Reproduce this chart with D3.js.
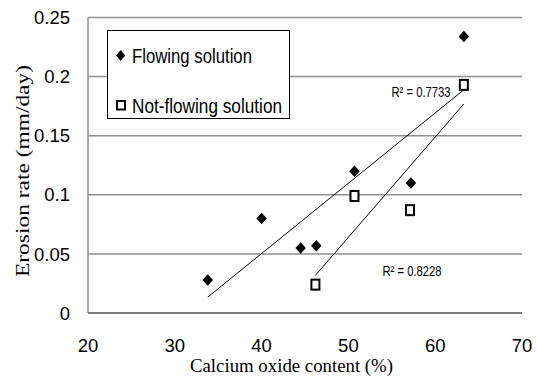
<!DOCTYPE html>
<html>
<head>
<meta charset="utf-8">
<script src="https://cdn.jsdelivr.net/npm/d3@7"></script>
<style>
  html, body { margin: 0; padding: 0; background: #fff; }
  svg { display: block; }
</style>
</head>
<body>
<svg id="chart" width="537" height="383"></svg>
<script>
// Calcium oxide content (%) vs erosion rate (mm/day)
const calciumFlowing = [33.8, 40.0, 44.5, 46.3, 50.7, 57.2, 63.3];
const rateFlowing    = [0.028, 0.080, 0.055, 0.057, 0.120, 0.110, 0.234];
const calciumStill   = [46.2, 50.7, 57.1, 63.3];
const rateStill      = [0.024, 0.099, 0.087, 0.193];

const xTicks = [20, 30, 40, 50, 60, 70];
const yTicks = [0, 0.05, 0.1, 0.15, 0.2, 0.25];
const yTickLabels = ["0", "0.05", "0.1", "0.15", "0.2", "0.25"];

const seriesNames = ["Flowing solution", "Not-flowing solution"];
const rSquaredLabels = ["R\u00B2 = 0.7733", "R\u00B2 = 0.8228"];

const svg = d3.select("#chart");
const plotLeft = 88, plotRight = 522, plotTop = 17.5, plotBottom = 313;

const x = d3.scaleLinear().domain([20, 70]).range([plotLeft, plotRight]);
const y = d3.scaleLinear().domain([0, 0.25]).range([plotBottom, plotTop]);

const sansFont = "'Liberation Sans Narrow', 'Liberation Sans', Arial, sans-serif";
const serifFont = "'Liberation Serif', 'Times New Roman', serif";

// horizontal gridlines
svg.append("g")
  .selectAll("line")
  .data(yTicks.slice(1))
  .join("line")
  .attr("x1", plotLeft).attr("x2", plotRight)
  .attr("y1", d => y(d)).attr("y2", d => y(d))
  .attr("stroke", "#8e8e8e").attr("stroke-width", 1.5);

// axis lines
svg.append("line")
  .attr("x1", plotLeft).attr("x2", plotLeft).attr("y1", plotTop).attr("y2", plotBottom)
  .attr("stroke", "#8e8e8e").attr("stroke-width", 1.5);
svg.append("line")
  .attr("x1", plotLeft).attr("x2", plotRight).attr("y1", plotBottom).attr("y2", plotBottom)
  .attr("stroke", "#7a7a7a").attr("stroke-width", 2);

// tick labels
svg.append("g")
  .selectAll("text")
  .data(yTicks)
  .join("text")
  .attr("x", 70).attr("y", d => y(d))
  .attr("dy", "0.36em")
  .attr("text-anchor", "end")
  .attr("font-family", sansFont).attr("font-size", 18.5)
  .text((d, i) => yTickLabels[i]);

svg.append("g")
  .selectAll("text")
  .data(xTicks)
  .join("text")
  .attr("x", d => x(d)).attr("y", 345)
  .attr("dy", "0.36em")
  .attr("text-anchor", "middle")
  .attr("font-family", sansFont).attr("font-size", 18.5)
  .text(d => d);

// axis titles
svg.append("text")
  .attr("x", 291.5).attr("y", 372)
  .attr("text-anchor", "middle")
  .attr("font-family", serifFont).attr("font-size", 19)
  .attr("textLength", 203).attr("lengthAdjust", "spacingAndGlyphs")
  .text("Calcium oxide content (%)");

svg.append("text")
  .attr("transform", "translate(29,171) rotate(-90)")
  .attr("text-anchor", "middle")
  .attr("font-family", serifFont).attr("font-size", 19.5)
  .attr("textLength", 212).attr("lengthAdjust", "spacingAndGlyphs")
  .text("Erosion rate (mm/day)");

// least-squares trendline
function fit(xs, ys) {
  const mx = d3.mean(xs), my = d3.mean(ys);
  let sxy = 0, sxx = 0;
  xs.forEach((v, i) => { sxy += (v - mx) * (ys[i] - my); sxx += (v - mx) * (v - mx); });
  const slope = sxy / sxx, icpt = my - slope * mx;
  const [x0, x1] = d3.extent(xs);
  return [[x0, icpt + slope * x0], [x1, icpt + slope * x1]];
}

const line = d3.line().x(d => x(d[0])).y(d => y(d[1]));
[[calciumFlowing, rateFlowing], [calciumStill, rateStill]].forEach(([xs, ys]) => {
  svg.append("path")
    .attr("d", line(fit(xs, ys)))
    .attr("fill", "none").attr("stroke", "#000").attr("stroke-width", 1);
});

// marker shapes
function diamondPath(cx, cy, w, h) {
  const p = d3.path();
  p.moveTo(cx, cy - h / 2);
  p.lineTo(cx + w / 2, cy);
  p.lineTo(cx, cy + h / 2);
  p.lineTo(cx - w / 2, cy);
  p.closePath();
  return p.toString();
}

svg.append("g")
  .selectAll("path")
  .data(calciumFlowing.map((c, i) => [c, rateFlowing[i]]))
  .join("path")
  .attr("d", d => diamondPath(x(d[0]), y(d[1]), 10.5, 11.5))
  .attr("fill", "#000");

svg.append("g")
  .selectAll("rect")
  .data(calciumStill.map((c, i) => [c, rateStill[i]]))
  .join("rect")
  .attr("x", d => x(d[0]) - 4).attr("y", d => y(d[1]) - 5)
  .attr("width", 8).attr("height", 10)
  .attr("fill", "#fff").attr("stroke", "#000").attr("stroke-width", 2);

// R² labels
svg.append("text")
  .attr("x", 391.5).attr("y", 97)
  .attr("font-family", sansFont).attr("font-size", 14.5)
  .attr("textLength", 59).attr("lengthAdjust", "spacingAndGlyphs")
  .text(rSquaredLabels[0]);
svg.append("text")
  .attr("x", 382.5).attr("y", 276)
  .attr("font-family", sansFont).attr("font-size", 14.5)
  .attr("textLength", 59).attr("lengthAdjust", "spacingAndGlyphs")
  .text(rSquaredLabels[1]);

// legend
const legend = svg.append("g");
legend.append("rect")
  .attr("x", 107.5).attr("y", 30.5).attr("width", 182).attr("height", 88)
  .attr("fill", "#fff").attr("stroke", "#000").attr("stroke-width", 1);

legend.append("path")
  .attr("d", diamondPath(120.7, 55.5, 9, 11))
  .attr("fill", "#000");
legend.append("rect")
  .attr("x", 117).attr("y", 101).attr("width", 8).attr("height", 8.5)
  .attr("fill", "#fff").attr("stroke", "#000").attr("stroke-width", 2);

legend.selectAll("text.entry")
  .data(seriesNames)
  .join("text")
  .attr("class", "entry")
  .attr("x", 132).attr("y", (d, i) => i === 0 ? 63 : 113)
  .attr("font-family", sansFont).attr("font-size", 21)
  .attr("textLength", (d, i) => i === 0 ? 120 : 150)
  .attr("lengthAdjust", "spacingAndGlyphs")
  .text(d => d);
</script>
</body>
</html>
